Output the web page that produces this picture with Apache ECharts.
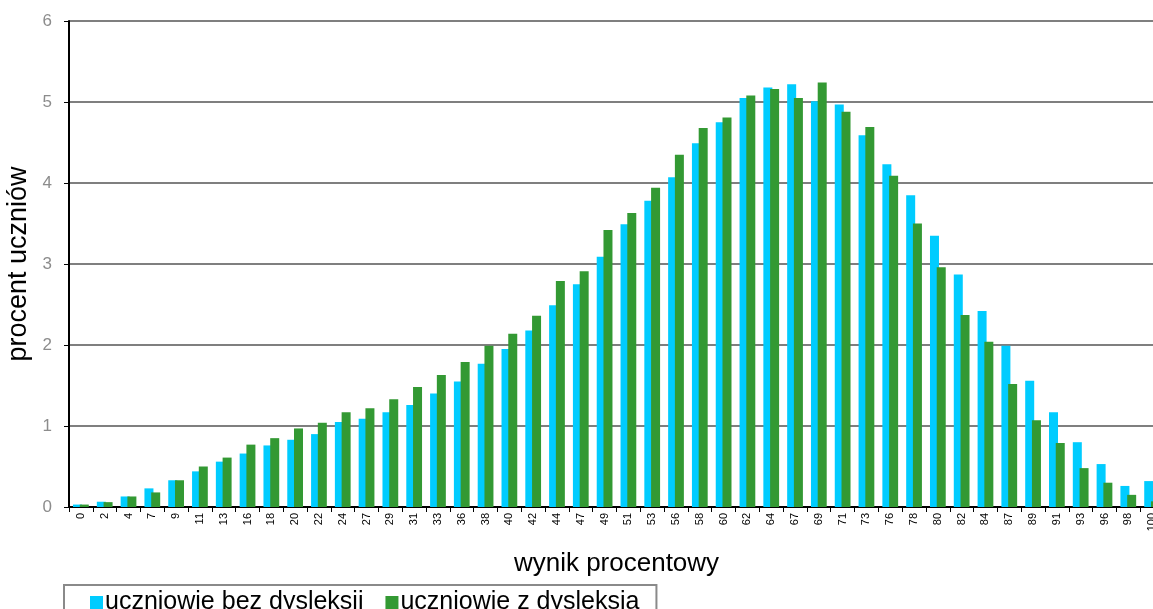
<!DOCTYPE html>
<html>
<head>
<meta charset="utf-8">
<script src="https://cdn.jsdelivr.net/npm/echarts@6/dist/echarts.min.js"></script>
<style>
    html, body { margin: 0; padding: 0; background: #fff; }
    #chart { width: 1153px; height: 609px; }
</style>
</head>
<body>
<div id="chart"></div>
<script>
    // kategorie - wynik procentowy
    var wyniki = ['0', '2', '4', '7', '9', '11', '13', '16', '18', '20', '22', '24', '27', '29', '31', '33',
        '36', '38', '40', '42', '44', '47', '49', '51', '53', '56', '58', '60', '62', '64', '67', '69',
        '71', '73', '76', '78', '80', '82', '84', '87', '89', '91', '93', '96', '98', '100'];

    // procent uczniow
    var bezDysleksji = [0.03, 0.065, 0.13, 0.23, 0.33, 0.44, 0.56, 0.66, 0.76, 0.83, 0.9, 1.05, 1.09, 1.17, 1.26, 1.4,
        1.55, 1.77, 1.95, 2.18, 2.49, 2.75, 3.09, 3.49, 3.78, 4.07, 4.49, 4.75, 5.05, 5.18, 5.22, 5.01,
        4.97, 4.59, 4.23, 3.85, 3.35, 2.87, 2.42, 1.99, 1.56, 1.17, 0.8, 0.53, 0.26, 0.32];
    var zDysleksja = [0.03, 0.06, 0.13, 0.18, 0.33, 0.5, 0.61, 0.77, 0.85, 0.97, 1.04, 1.17, 1.22, 1.33, 1.48, 1.63,
        1.79, 1.99, 2.14, 2.36, 2.79, 2.91, 3.42, 3.63, 3.94, 4.35, 4.68, 4.81, 5.08, 5.16, 5.05, 5.24,
        4.88, 4.69, 4.09, 3.5, 2.96, 2.37, 2.04, 1.52, 1.07, 0.79, 0.48, 0.3, 0.15, 0.07];

    var yTicks = [0, 1, 2, 3, 4, 5, 6];

    var font = 'Arial, "Liberation Sans", sans-serif';
    var myChart = echarts.init(document.getElementById('chart'));

    var option = {
        animation: false,
        textStyle: { fontFamily: font },
        // wykres wychodzi poza prawa krawedz (ostatnia kategoria ucieta)
        grid: { left: 69, right: -11, top: 21, bottom: 102, outerBoundsMode: 'none', containLabel: false },
        legend: {
            left: 64,
            top: 585,
            padding: [5, 17, 6, 26],
            itemGap: 22,
            itemWidth: 13,
            itemHeight: 13,
            icon: 'rect',
            borderColor: '#8a8a8a',
            borderWidth: 2,
            textStyle: { fontSize: 25, color: '#000', fontFamily: font, padding: [0, 0, 0, -3] },
            data: ['uczniowie bez dysleksji', 'uczniowie z dysleksja']
        },
        xAxis: {
            type: 'category',
            data: wyniki,
            name: 'wynik procentowy',
            nameLocation: 'middle',
            nameGap: 44,
            nameTextStyle: { fontSize: 26, color: '#000', fontFamily: font },
            axisLine: { lineStyle: { color: '#000', width: 2 } },
            axisTick: { show: true, length: 5, interval: 0, lineStyle: { color: '#000' } },
            axisLabel: { interval: 0, rotate: 90, fontSize: 11, color: '#000', margin: 6 }
        },
        yAxis: {
            type: 'value',
            min: yTicks[0],
            max: yTicks[yTicks.length - 1],
            interval: 1,
            name: 'procent uczniów',
            nameLocation: 'middle',
            nameGap: 35,
            nameTextStyle: { fontSize: 27, color: '#000', fontFamily: font },
            axisLine: { show: true, lineStyle: { color: '#000', width: 2 } },
            axisTick: { show: true, length: 5, lineStyle: { color: '#000' } },
            axisLabel: { fontSize: 17, color: '#8c8c8c', margin: 17 },
            splitLine: { lineStyle: { color: '#7f7f7f', width: 2 } }
        },
        series: [
            {
                name: 'uczniowie bez dysleksji',
                type: 'bar',
                data: bezDysleksji,
                barWidth: 9,
                barGap: '-25%',
                itemStyle: { color: '#00CCFF' }
            },
            {
                name: 'uczniowie z dysleksja',
                type: 'bar',
                data: zDysleksja,
                barWidth: 9,
                itemStyle: { color: '#339933' }
            }
        ]
    };

    myChart.setOption(option);
</script>
</body>
</html>
